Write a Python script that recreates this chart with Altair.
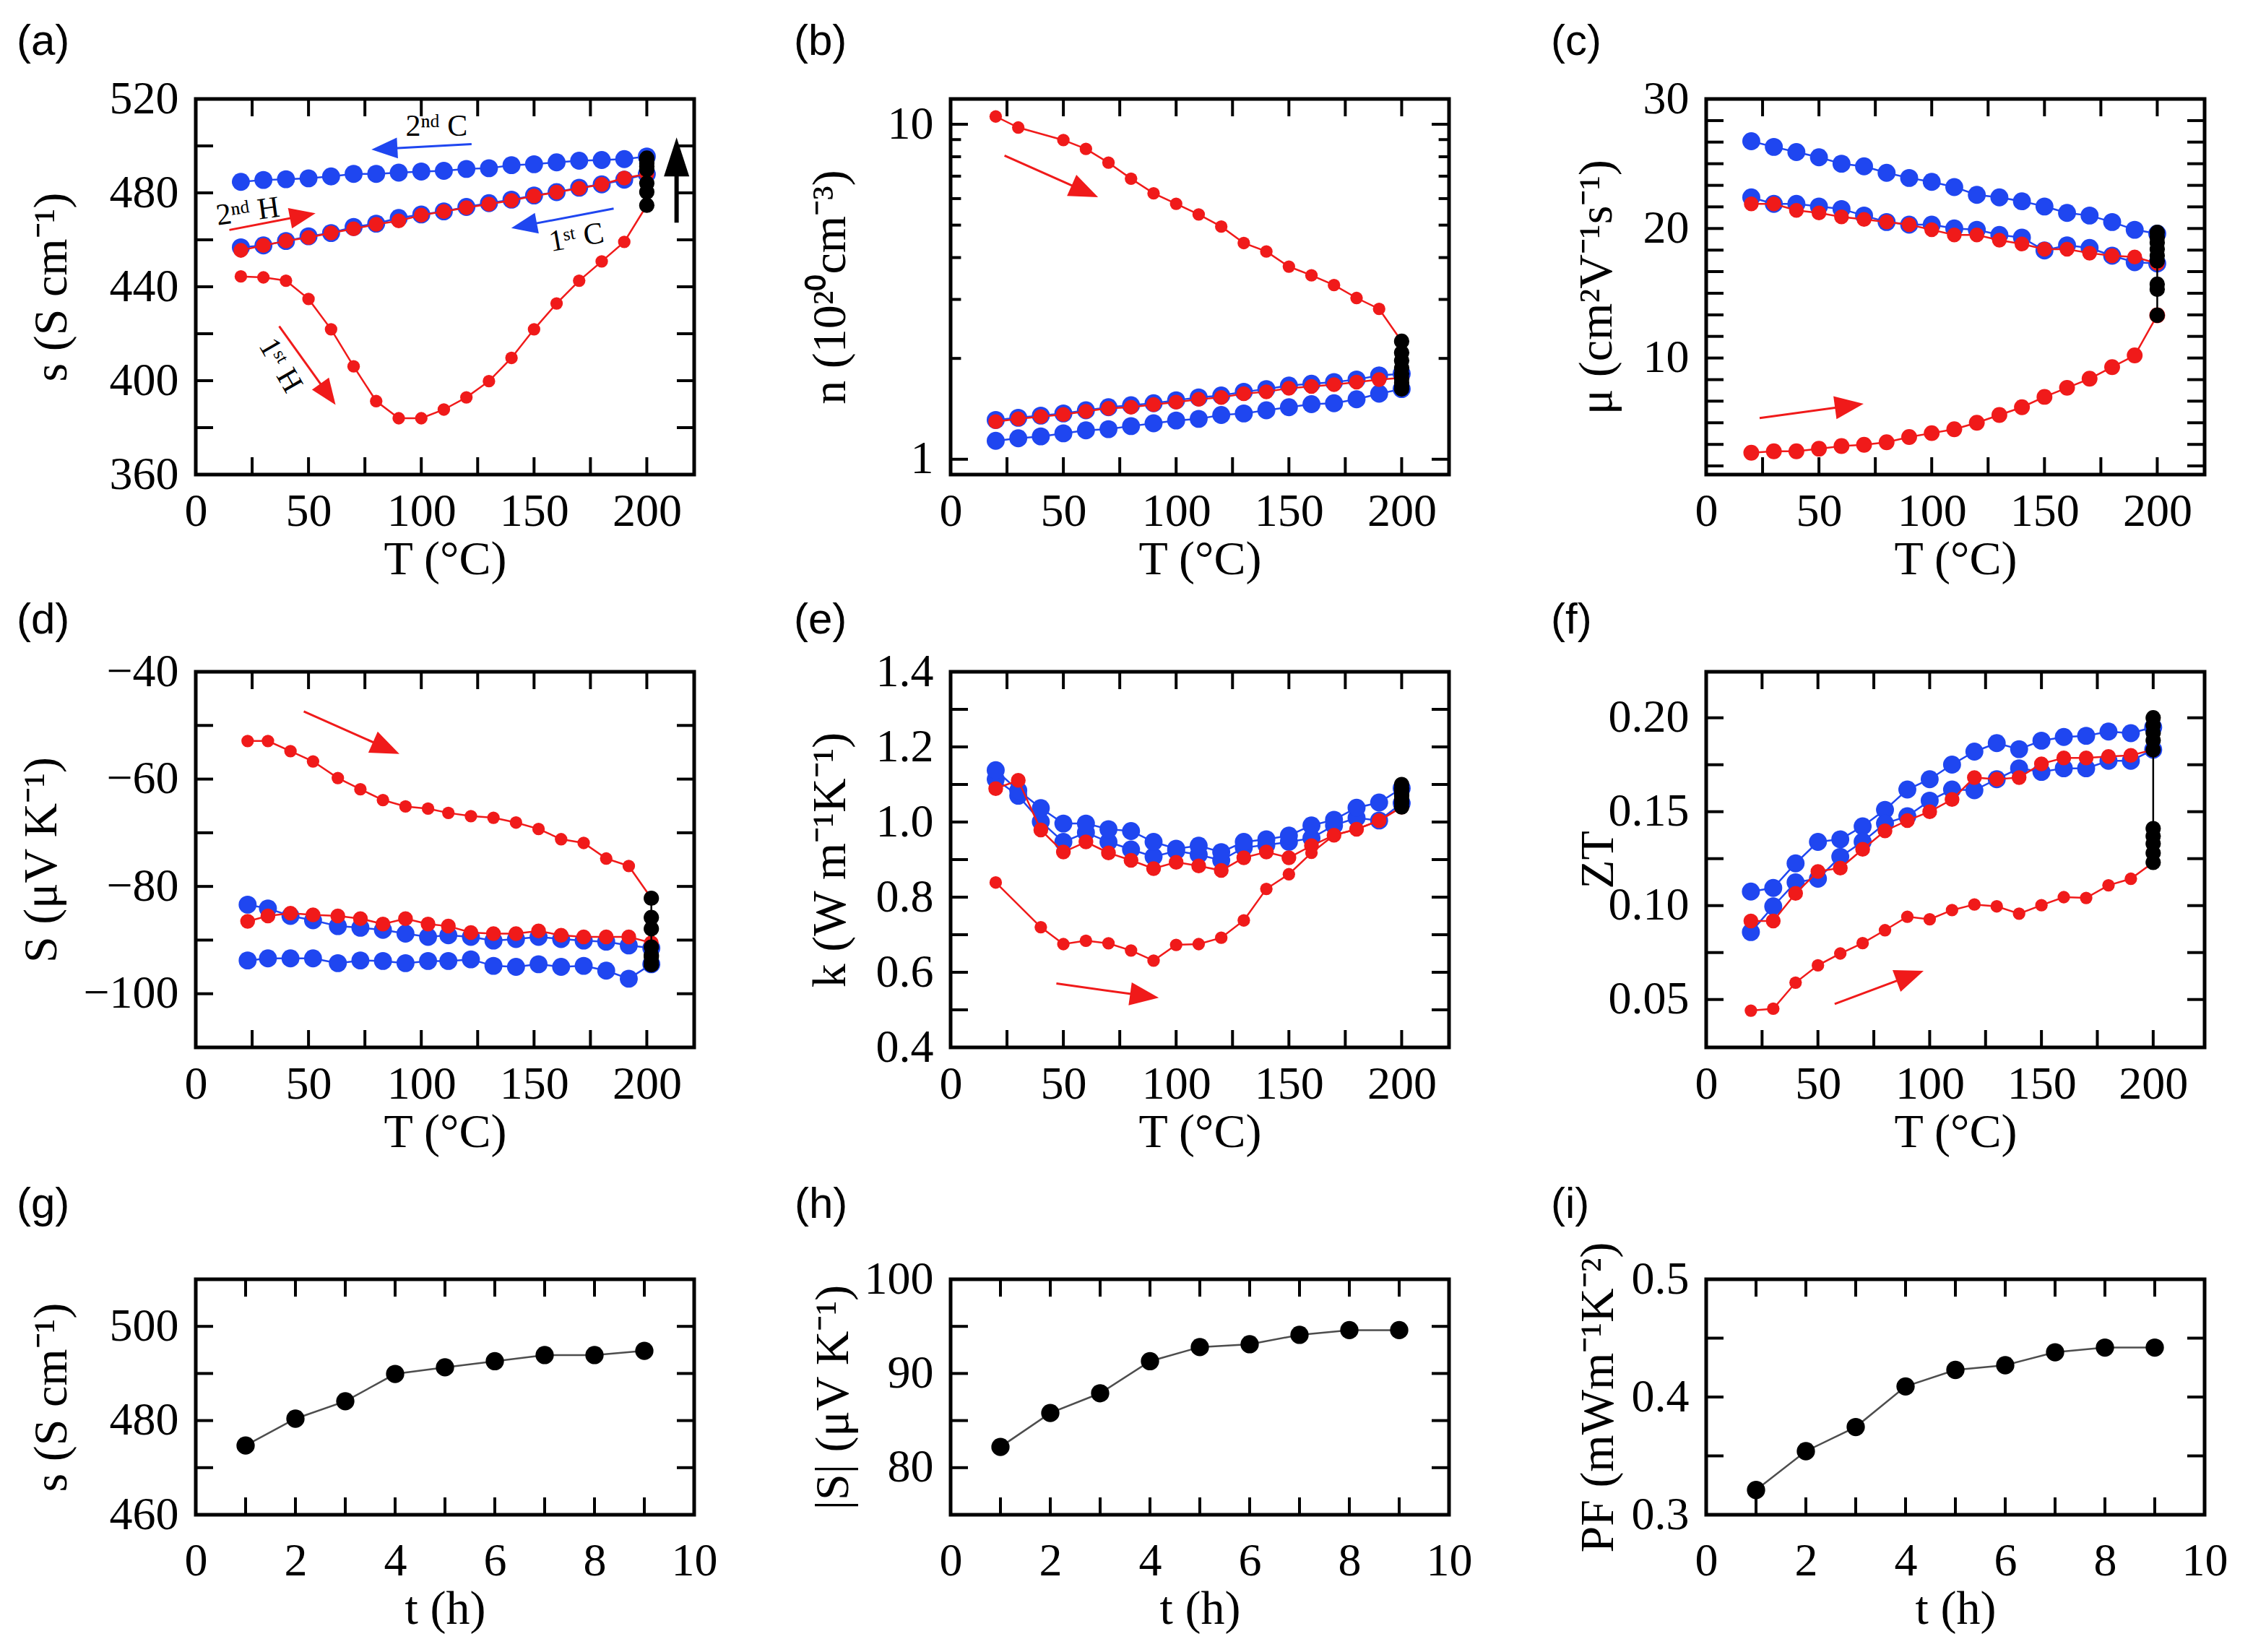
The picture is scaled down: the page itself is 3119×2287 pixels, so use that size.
import math
import altair as alt
import pandas as pd

SERIF = "Liberation Serif"
SANS = "Liberation Sans"
RED = "#f01a1a"
BLUE = "#1f46f0"
BLACK = "#000000"
GREY = "#4d4d4d"

# ---------------- data ----------------
T = [20, 30, 40, 50, 60, 70, 80, 90, 100, 110, 120, 130, 140, 150, 160, 170, 180, 190, 200]
T_NO40 = [20, 30, 50, 60, 70, 80, 90, 100, 110, 120, 130, 140, 150, 160, 170, 180, 190, 200]
T_NO30 = [20, 40, 50, 60, 70, 80, 90, 100, 110, 120, 130, 140, 150, 160, 170, 180, 190, 200]
T_D = [23, 32, 42, 52, 63, 73, 83, 93, 103, 112, 122, 132, 142, 152, 162, 172, 182, 192, 202]
T_HOLD = 200
T_HOLD_D = 202
HOURS = [1, 2, 3, 4, 5, 6, 7, 8, 9]

# (a) sigma (S/cm)
A_H1 = [444.4, 444.0, 442.6, 434.8, 421.9, 406.1, 391.3, 384.0, 384.0, 387.7, 392.9, 399.8,
        409.7, 421.9, 432.9, 442.6, 450.8, 459.1, 474.7]
A_C1 = [456.8, 457.6, 459.5, 461.5, 462.9, 465.5, 466.9, 469.3, 470.8, 472.1, 474.0, 475.6,
        477.1, 478.9, 480.3, 482.2, 483.6, 485.6, 488.0]
A_H2 = [455.5, 457.6, 459.5, 461.0, 462.9, 464.7, 466.6, 468.1, 470.5, 472.1, 473.7, 475.2,
        476.8, 478.7, 480.3, 481.9, 483.6, 486.3, 488.0]
A_C2 = [484.7, 485.5, 485.8, 486.2, 487.0, 488.1, 488.1, 488.6, 489.1, 489.4, 490.2, 490.5,
        491.8, 492.2, 493.0, 493.7, 494.0, 494.4, 495.5]
A_HOLD = [474.7, 480.4, 484.1, 489.9, 491.3, 492.6, 493.9, 493.9, 494.8]

# (b) n (1e20 cm^-3)
B_H1 = [10.55, 9.78, 8.97, 8.44, 7.68, 6.88, 6.22, 5.79, 5.38, 4.95, 4.42, 4.17, 3.76, 3.54,
        3.31, 3.03, 2.81, 2.25]
B_C1 = [1.31, 1.33, 1.35, 1.37, 1.40, 1.43, 1.45, 1.47, 1.50, 1.53, 1.55, 1.59, 1.62, 1.66,
        1.68, 1.70, 1.73, 1.78, 1.80]
B_H2 = [1.295, 1.32, 1.34, 1.36, 1.39, 1.42, 1.43, 1.456, 1.48, 1.51, 1.53, 1.57, 1.59, 1.63,
        1.65, 1.67, 1.70, 1.73, 1.75]
B_C2 = [1.135, 1.155, 1.17, 1.195, 1.22, 1.23, 1.256, 1.28, 1.305, 1.32, 1.356, 1.37, 1.40,
        1.43, 1.46, 1.47, 1.51, 1.57, 1.62]
B_HOLD = [2.25, 2.08, 1.97, 1.87, 1.80, 1.74, 1.69, 1.65, 1.62]

# (c) mobility
C_H1 = [2.69, 2.8, 2.8, 3.0, 3.2, 3.3, 3.5, 3.9, 4.2, 4.5, 5.0, 5.6, 6.2, 7.0, 7.7, 8.4, 9.3,
        10.2, 13.3]
C_C1 = [22.4, 21.9, 21.9, 21.7, 21.5, 21.0, 20.5, 20.3, 20.3, 20.0, 19.9, 19.5, 19.3, 18.3,
        18.7, 18.5, 17.9, 17.4, 17.3]
C_H2 = [21.9, 21.9, 21.4, 21.2, 20.9, 20.7, 20.5, 20.3, 19.9, 19.5, 19.5, 19.1, 18.8, 18.4,
        18.4, 18.1, 17.9, 17.8, 17.3]
C_C2 = [26.74, 26.3, 25.9, 25.5, 25.0, 24.8, 24.3, 23.9, 23.6, 23.2, 22.6, 22.4, 22.1, 21.7,
        21.2, 21.0, 20.5, 19.9, 19.6]
C_HOLD = [13.3, 15.3, 15.7, 17.5, 17.9, 18.4, 18.9, 19.3, 19.7]

# (d) Seebeck
D_H1 = [-52.9, -52.9, -54.8, -56.7, -59.8, -61.9, -63.9, -65.1, -65.5, -66.3, -66.9, -67.2,
        -68.1, -69.3, -71.2, -71.9, -74.8, -76.2, -82.2]
D_C1 = [-83.4, -84.1, -85.5, -86.3, -87.4, -87.7, -88.1, -88.8, -89.4, -89.1, -89.4, -90.1,
        -89.8, -89.4, -89.8, -90.1, -90.3, -91.0, -91.5]
D_H2 = [-86.5, -85.5, -85.0, -85.3, -85.5, -86.0, -87.0, -86.0, -87.0, -87.4, -88.6, -88.8,
        -88.8, -88.3, -89.1, -89.4, -89.4, -89.4, -90.5]
D_C2 = [-93.8, -93.4, -93.4, -93.4, -94.3, -93.8, -93.9, -94.3, -93.9, -93.9, -93.6, -94.8,
        -95.0, -94.5, -95.0, -94.8, -95.7, -97.2, -94.5]
D_HOLD = [-82.2, -85.8, -87.9, -91.3, -92.8, -93.1, -94.1, -94.6, -94.6]

# (e) thermal conductivity
E_H1 = [0.839, 0.720, 0.675, 0.684, 0.677, 0.658, 0.631, 0.673, 0.675, 0.692, 0.738, 0.822,
        0.861, 0.918, 0.965, 0.981, 1.003, 1.04]
E_H2 = [1.089, 1.111, 0.979, 0.920, 0.947, 0.918, 0.898, 0.876, 0.893, 0.883, 0.871, 0.905,
        0.920, 0.905, 0.937, 0.965, 0.981, 1.004, 1.04]
E_C1 = [1.138, 1.084, 1.037, 0.996, 0.996, 0.981, 0.976, 0.947, 0.929, 0.937, 0.920, 0.947,
        0.954, 0.964, 0.991, 1.006, 1.038, 1.052, 1.09]
E_C2 = [1.114, 1.070, 1.001, 0.947, 0.972, 0.947, 0.927, 0.908, 0.923, 0.913, 0.898, 0.932,
        0.939, 0.947, 0.957, 0.991, 1.011, 1.004, 1.05]
E_HOLD = [1.04, 1.05, 1.055, 1.06, 1.07, 1.075, 1.085, 1.09, 1.10]

# (f) ZT
F_H1 = [0.0441, 0.0451, 0.059, 0.0682, 0.0745, 0.080, 0.0869, 0.0941, 0.0927, 0.0976, 0.1006,
        0.0996, 0.0957, 0.1002, 0.1045, 0.1041, 0.1108, 0.1143, 0.123]
F_H2 = [0.0918, 0.0918, 0.1065, 0.1182, 0.120, 0.130, 0.1398, 0.1453, 0.150, 0.1565, 0.1682,
        0.1673, 0.1682, 0.1755, 0.1786, 0.1786, 0.1794, 0.180, 0.183]
F_C1 = [0.0859, 0.0996, 0.1124, 0.1143, 0.126, 0.134, 0.1437, 0.1476, 0.1559, 0.1618, 0.1614,
        0.1673, 0.1731, 0.1712, 0.1731, 0.1731, 0.1771, 0.1771, 0.183]
F_C2 = [0.1075, 0.1094, 0.1225, 0.1339, 0.1353, 0.1422, 0.151, 0.1618, 0.1673, 0.1751, 0.182,
        0.1865, 0.1833, 0.1878, 0.1898, 0.1904, 0.1927, 0.1918, 0.195]
F_HOLD = [0.123, 0.128, 0.133, 0.137, 0.141, 0.183, 0.188, 0.192, 0.196, 0.200]

# (g)-(i) isothermal hold at 200 C
G_SIGMA = [474.7, 480.4, 484.1, 489.9, 491.3, 492.6, 493.9, 493.9, 494.8]
H_ABS_S = [82.2, 85.8, 87.9, 91.3, 92.8, 93.1, 94.1, 94.6, 94.6]
I_PF = [0.321, 0.354, 0.3745, 0.409, 0.423, 0.427, 0.438, 0.442, 0.442]

# axis ticks / labels
XL_T = [0, 50, 100, 150, 200]
XT_T = [25, 50, 75, 100, 125, 150, 175, 200]
XL_H = [0, 2, 4, 6, 8, 10]
XT_H = [1, 2, 3, 4, 5, 6, 7, 8, 9]

# arrow annotations (x0, y0, x1, y1, colour)
ARROWS_A = [(122.3, 500.8, 77.9, 498.5, BLUE), (14.9, 464.2, 53.1, 471.3, RED),
            (185.3, 473.3, 139.9, 465.0, BLUE), (37.0, 423.2, 62.0, 389.7, RED)]
BIG_ARROW_A = [(213.2, 467.3, 213.2, 503.6, BLACK)]
ARROWS_B = [(23.9, 8.06, 65.4, 6.06, RED)]
ARROWS_C = [(23.7, 5.37, 69.8, 6.46, RED)]
ARROWS_D = [(47.9, -47.4, 90.3, -55.3, RED)]
ARROWS_E = [(46.9, 0.570, 92.3, 0.532, RED)]
ARROWS_F = [(57.5, 0.0476, 97.3, 0.0653, RED)]
TEXTS_A = [("2ⁿᵈ C", 106.8, 508.3, 0), ("2ⁿᵈ H", 23.1, 472.1, 352),
           ("1ˢᵗ C", 168.8, 461.0, 350), ("1ˢᵗ H", 37.6, 406.6, 60)]

# ---------------- layout ----------------
W = 690
H_ROW = 520
H_LOW = 326
TICK_LEN = 24
TICK_W = 4
HEAD_PATH = "M0,-1L0.8,1L-0.8,1Z"
HEAD_PATH_BIG = "M0,-1L0.65,1L-0.65,1Z"

# invisible bounding boxes that fix every panel's outer extent
COL_LEFT = [268, 314, 313]
COL_RIGHT = [35, 37, 40]
ROW_TOP = [134, 105, 148]
ROW_BOTTOM = [162, 167, 172]

S_BLUE = 620
S_RED2 = 420
S_RED1 = 300
S_BLACK = 450
S_BOTTOM = 640


def build_panel(letter, letter_dx, letter_up, height, col, row, xdom, ydom, xlabels, xticks,
                ylabels, yticks, yfmt, xtitle, ytitle, ytitle_x, series, arrows=(),
                big_arrows=(), texts=(), ylog=False, yminor=(), hl=40, xpad=19):
    xs = alt.Scale(domain=xdom, nice=False, zero=False)
    if ylog:
        ys = alt.Scale(type="log", domain=ydom, nice=False)
    else:
        ys = alt.Scale(domain=ydom, nice=False, zero=False)

    xaxis = alt.Axis(values=xlabels, format="d", title=xtitle, ticks=False, domain=False,
                     grid=False, labelFont=SERIF, labelFontSize=64, labelPadding=xpad,
                     labelColor="black", labelFlush=False, labelOverlap=False,
                     titleFont=SERIF, titleFontSize=66, titleFontWeight="normal",
                     titlePadding=2, titleColor="black")
    yaxis = alt.Axis(values=ylabels, format=yfmt, title=ytitle, ticks=False, domain=False,
                     grid=False, labelFont=SERIF, labelFontSize=64, labelPadding=24,
                     labelColor="black", labelFlush=False, labelOverlap=False,
                     titleFont=SERIF, titleFontSize=66, titleFontWeight="normal",
                     titleColor="black", titleAngle=270, titleAlign="center",
                     titleBaseline="middle", titleX=ytitle_x, titleY=height / 2)

    def X(f):
        return alt.X(f, type="quantitative", scale=xs, axis=xaxis)

    def Y(f):
        return alt.Y(f, type="quantitative", scale=ys, axis=yaxis)

    layers = []
    # invisible extent box
    layers.append(alt.Chart(pd.DataFrame({"a": [0]})).mark_rule(
        color="white", strokeWidth=0.01, opacity=0.01).encode(
        x=alt.value(-COL_LEFT[col]), x2=alt.value(W + COL_RIGHT[col]),
        y=alt.value(-ROW_TOP[row]), y2=alt.value(height + ROW_BOTTOM[row])))

    # inward ticks on all four sides
    dfx = pd.DataFrame({"v": xticks})
    dfy = pd.DataFrame({"v": yticks})
    rule = dict(color="black", strokeWidth=TICK_W)
    layers.append(alt.Chart(dfx).mark_rule(**rule).encode(
        x=X("v"), y=alt.value(height), y2=alt.value(height - TICK_LEN)))
    layers.append(alt.Chart(dfx).mark_rule(**rule).encode(
        x=X("v"), y=alt.value(0), y2=alt.value(TICK_LEN)))
    layers.append(alt.Chart(dfy).mark_rule(**rule).encode(
        y=Y("v"), x=alt.value(0), x2=alt.value(TICK_LEN)))
    layers.append(alt.Chart(dfy).mark_rule(**rule).encode(
        y=Y("v"), x=alt.value(W), x2=alt.value(W - TICK_LEN)))
    if len(yminor):
        dfm = pd.DataFrame({"v": yminor})
        ml = TICK_LEN * 0.6
        layers.append(alt.Chart(dfm).mark_rule(**rule).encode(
            y=Y("v"), x=alt.value(0), x2=alt.value(ml)))
        layers.append(alt.Chart(dfm).mark_rule(**rule).encode(
            y=Y("v"), x=alt.value(W), x2=alt.value(W - ml)))

    # data series
    for xv, yv, color, size, lcolor in series:
        df = pd.DataFrame({"x": xv, "y": yv})
        base = alt.Chart(df).encode(x=X("x"), y=Y("y"))
        layers.append(base.mark_line(color=lcolor, strokeWidth=2.5))
        layers.append(base.mark_circle(color=color, size=size, opacity=1))

    # arrows
    fy = (lambda v: math.log10(v)) if ylog else (lambda v: v)
    iy = (lambda v: 10 ** v) if ylog else (lambda v: v)
    kx = W / (xdom[1] - xdom[0])
    ky = height / (fy(ydom[1]) - fy(ydom[0]))

    def add_arrow(x0, y0, x1, y1, color, hlen, sw, path):
        dxp = (x1 - x0) * kx
        dyp = -(fy(y1) - fy(y0)) * ky
        L = math.hypot(dxp, dyp)
        ux, uy = dxp / L, dyp / L
        ang = round(math.degrees(math.atan2(ux, -uy)) % 360, 2)
        xc = x1 - ux * hlen / 2 / kx
        yc = iy(fy(y1) + uy * hlen / 2 / ky)
        sdf = pd.DataFrame({"x0": [x0], "y0": [y0], "x1": [xc], "y1": [yc]})
        layers.append(alt.Chart(sdf).mark_rule(color=color, strokeWidth=sw).encode(
            x=X("x0"), y=Y("y0"), x2="x1", y2="y1"))
        hdf = pd.DataFrame({"x": [xc], "y": [yc]})
        layers.append(alt.Chart(hdf).mark_point(
            shape=path, filled=True, color=color, size=hlen * hlen, opacity=1,
            strokeWidth=0, angle=ang).encode(x=X("x"), y=Y("y")))

    for x0, y0, x1, y1, color in arrows:
        add_arrow(x0, y0, x1, y1, color, hl, 3, HEAD_PATH)
    for x0, y0, x1, y1, color in big_arrows:
        add_arrow(x0, y0, x1, y1, color, 54, 6, HEAD_PATH_BIG)

    for txt, tx, ty, ang in texts:
        tdf = pd.DataFrame({"x": [tx], "y": [ty]})
        layers.append(alt.Chart(tdf).mark_text(
            text=txt, font=SERIF, fontSize=42, color="black", angle=ang,
            align="center", baseline="middle").encode(x=X("x"), y=Y("y")))

    # panel letter, placed relative to the plot frame
    layers.append(alt.Chart(pd.DataFrame({"t": [letter]})).mark_text(
        font=SANS, fontSize=60, color="black", align="left", baseline="middle").encode(
        text="t:N", x=alt.value(letter_dx), y=alt.value(-letter_up)))

    return alt.layer(*layers).properties(width=W, height=height)


def std_series(c2, c1, h2, h1, hold, tx, tx_h1, t_hold, s_h1=S_RED1):
    return [
        (tx, c2, BLUE, S_BLUE, BLUE),
        (tx, c1, BLUE, S_BLUE, BLUE),
        (tx, h2, RED, S_RED2, RED),
        (tx_h1, h1, RED, s_h1, RED),
        ([t_hold] * len(hold), hold, BLACK, S_BLACK, BLACK),
    ]


TT = "T (°C)"
UP1, UP2, UP3 = 79, 71, 103
pa = build_panel("(a)", -248, UP1, H_ROW, 0, 0, [0, 221], [360, 520], XL_T, XT_T,
                 [360, 400, 440, 480, 520], [380, 400, 420, 440, 460, 480, 500], "d",
                 TT, "s (S cm⁻¹)", -200,
                 std_series(A_C2, A_C1, A_H2, A_H1, A_HOLD, T, T, T_HOLD),
                 arrows=ARROWS_A, big_arrows=BIG_ARROW_A, texts=TEXTS_A, hl=36)
pb = build_panel("(b)", -217, UP1, H_ROW, 1, 0, [0, 221], [0.9, 11.9], XL_T, XT_T,
                 [1, 10], [1, 10], "d", TT, "n (10²⁰cm⁻³)", -167,
                 std_series(B_C2, B_C1, B_H2, B_H1, B_HOLD, T, T_NO40, T_HOLD),
                 arrows=ARROWS_B, ylog=True, yminor=[2, 3, 4, 5, 6, 7, 8, 9])
pc = build_panel("(c)", -215, UP1, H_ROW, 2, 0, [0, 221], [1, 30], XL_T, XT_T,
                 [10, 20, 30],
                 [28.33, 26.67, 25.0, 23.33, 21.67, 20.0, 18.33, 16.67, 15.0, 13.33, 11.67,
                  10.0, 8.33, 6.67, 5.0, 3.33, 1.67], "d",
                 TT, "μ (cm²V⁻¹s⁻¹)", -152,
                 std_series(C_C2, C_C1, C_H2, C_H1, C_HOLD, T, T, T_HOLD, s_h1=480),
                 arrows=ARROWS_C)
pd_ = build_panel("(d)", -248, UP2, H_ROW, 0, 1, [0, 221], [-110, -40], XL_T, XT_T,
                  [-100, -80, -60, -40], [-100, -90, -80, -70, -60, -50], "d",
                  TT, "S (μV K⁻¹)", -214,
                  std_series(D_C2, D_C1, D_H2, D_H1, D_HOLD, T_D, T_D, T_HOLD_D),
                  arrows=ARROWS_D)
pe = build_panel("(e)", -217, UP2, H_ROW, 1, 1, [0, 221], [0.4, 1.4], XL_T, XT_T,
                 [0.4, 0.6, 0.8, 1.0, 1.2, 1.4],
                 [0.5, 0.6, 0.7, 0.8, 0.9, 1.0, 1.1, 1.2, 1.3], ".1f",
                 TT, "k (W m⁻¹K⁻¹)", -167,
                 std_series(E_C2, E_C1, E_H2, E_H1, E_HOLD, T, T_NO30, T_HOLD),
                 arrows=ARROWS_E)
pf = build_panel("(f)", -215, UP2, H_ROW, 2, 1, [0, 223], [0.0245, 0.2245], XL_T, XT_T,
                 [0.05, 0.10, 0.15, 0.20],
                 [0.05, 0.075, 0.1, 0.125, 0.15, 0.175, 0.2], ".2f",
                 TT, "ZT", -150,
                 std_series(F_C2, F_C1, F_H2, F_H1, F_HOLD, T, T, T_HOLD),
                 arrows=ARROWS_F)
pg = build_panel("(g)", -248, UP3, H_LOW, 0, 2, [0, 10], [460, 510], XL_H, XT_H,
                 [460, 480, 500], [470, 480, 490, 500], "d", "t (h)", "s (S cm⁻¹)", -200,
                 [(HOURS, G_SIGMA, BLACK, S_BOTTOM, GREY)], xpad=32)
ph = build_panel("(h)", -216, UP3, H_LOW, 1, 2, [0, 10], [75, 100], XL_H, XT_H,
                 [80, 90, 100], [80, 85, 90, 95], "d", "t (h)", "|S| (μV K⁻¹)", -163,
                 [(HOURS, H_ABS_S, BLACK, S_BOTTOM, GREY)], xpad=32)
pi = build_panel("(i)", -215, UP3, H_LOW, 2, 2, [0, 10], [0.3, 0.5], XL_H, XT_H,
                 [0.3, 0.4, 0.5], [0.35, 0.4, 0.45], ".1f", "t (h)", "PF (mWm⁻¹K⁻²)", -150,
                 [(HOURS, I_PF, BLACK, S_BOTTOM, GREY)], xpad=32)

row1 = alt.hconcat(pa, pb, pc, spacing=0)
row2 = alt.hconcat(pd_, pe, pf, spacing=0)
row3 = alt.hconcat(pg, ph, pi, spacing=0)
chart = alt.vconcat(row1, row2, row3, spacing=0).properties(
    padding={"left": 0, "top": 0, "right": 0, "bottom": 0},
    background="white",
).configure_view(stroke="black", strokeWidth=5)

chart.save("out.html", embed_options={"renderer": "svg", "actions": False})
